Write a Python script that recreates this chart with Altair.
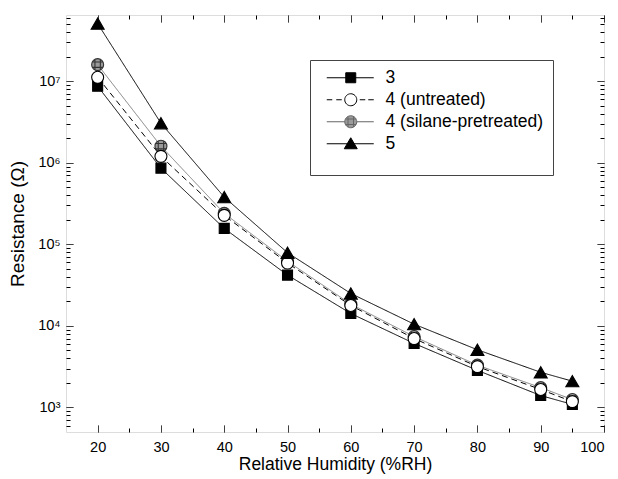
import altair as alt
import pandas as pd

# ---------------- data ----------------
RH = [20, 30, 40, 50, 60, 70, 80, 90, 95]
SERIES = ["3", "4 (untreated)", "4 (silane-pretreated)", "5"]
R_3 = [8.7e6, 8.6e5, 1.57e5, 4.2e4, 1.42e4, 6.1e3, 2.85e3, 1.4e3, 1.09e3]
R_4U = [1.12e7, 1.2e6, 2.27e5, 5.9e4, 1.78e4, 7.0e3, 3.17e3, 1.66e3, 1.18e3]
R_4S = [1.6e7, 1.6e6, 2.4e5, 6.2e4, 1.85e4, 7.4e3, 3.3e3, 1.75e3, 1.25e3]
R_5 = [5.1e7, 3.06e6, 3.8e5, 7.9e4, 2.5e4, 1.05e4, 5.1e3, 2.7e3, 2.1e3]

X_MAJOR = [20, 30, 40, 50, 60, 70, 80, 90, 100]
X_MINOR = [25, 35, 45, 55, 65, 75, 85, 95]
Y_MAJOR = [1e3, 1e4, 1e5, 1e6, 1e7]
Y_MINOR = [600, 700, 800, 900,
           2e3, 3e3, 4e3, 5e3, 6e3, 7e3, 8e3, 9e3,
           2e4, 3e4, 4e4, 5e4, 6e4, 7e4, 8e4, 9e4,
           2e5, 3e5, 4e5, 5e5, 6e5, 7e5, 8e5, 9e5,
           2e6, 3e6, 4e6, 5e6, 6e6, 7e6, 8e6, 9e6,
           2e7, 3e7, 4e7, 5e7, 6e7]

X_DOMAIN = [15, 100]
Y_DOMAIN = [500, 6.5e7]

# ---------------- styling ----------------
W, H = 538, 417
FONT = "Liberation Sans"
TICK = 7  # major tick length (inward)
TICK_COLOR = "black"

rows = []
for name, vals in zip(SERIES, [R_3, R_4U, R_4S, R_5]):
    for x, v in zip(RH, vals):
        rows.append({"series": name, "rh": x, "r": v})
df = pd.DataFrame(rows)

HATCH = ("M1,0A1,1,0,1,1,-1,0A1,1,0,1,1,1,0Z"
         "M-0.87,-0.45L0.87,-0.45M-0.87,0.45L0.87,0.45"
         "M-0.45,-0.87L-0.45,0.87M0.45,-0.87L0.45,0.87")

LINE_STYLE = {
    "3": dict(color="black", strokeDash=[1, 0]),
    "4 (untreated)": dict(color="black", strokeDash=[6, 4]),
    "4 (silane-pretreated)": dict(color="#808080", strokeDash=[1, 0]),
    "5": dict(color="black", strokeDash=[1, 0]),
}
POINT_STYLE = {
    "3": dict(shape="square", size=100, fill="black", stroke="black"),
    "4 (untreated)": dict(shape="circle", size=144, fill="white", stroke="black"),
    "4 (silane-pretreated)": dict(shape=HATCH, size=144, fill="#9a9a9a", stroke="#333333"),
    "5": dict(shape="triangle-up", size=169, fill="black", stroke="black"),
}
POINT_ORDER = ["4 (silane-pretreated)", "3", "4 (untreated)", "5"]

# legend symbols: line + marker in one path (1 unit = 5 px at size 100)
LEG_PATHS = [
    "M-0.2,0L9.2,0M3.6,-1L5.6,-1L5.6,1L3.6,1Z",
    "M-0.2,0L0.9,0M1.7,0L2.8,0M6.4,0L7.5,0M8.1,0L9.2,0"
    "M5.8,0A1.2,1.2,0,1,1,3.4,0A1.2,1.2,0,1,1,5.8,0Z",
    "M-0.2,0L3.4,0M5.8,0L9.2,0"
    "M5.8,0A1.2,1.2,0,1,1,3.4,0A1.2,1.2,0,1,1,5.8,0Z"
    "M3.56,-0.55L5.64,-0.55M3.56,0.55L5.64,0.55"
    "M4.05,-1.05L4.05,1.05M5.15,-1.05L5.15,1.05",
    "M-0.2,0L9.2,0M4.6,-1.2L5.9,1.0L3.3,1.0Z",
]
LEG_FILL = ["black", "white", "#9a9a9a", "black"]
LEG_STROKE = ["black", "black", "#666666", "black"]

x_scale = alt.Scale(domain=X_DOMAIN, nice=False, zero=False)
y_scale = alt.Scale(type="log", domain=Y_DOMAIN, nice=False)

X_VALUES = sorted(X_MAJOR + X_MINOR)
Y_VALUES = sorted(Y_MAJOR + Y_MINOR)
X_MINOR_TEST = "datum.value % 10 != 0"
Y_MINOR_TEST = "abs(log(datum.value)/LN10 - round(log(datum.value)/LN10)) > 0.001"

common = dict(domain=False, grid=False, ticks=True, tickColor=TICK_COLOR, tickWidth=1,
              tickSize={"expr": str(-TICK)})


def x_axis(orient, labels):
    kw = dict(common)
    kw["tickDash"] = {"condition": {"test": X_MINOR_TEST, "value": [4, 30]}, "value": [1, 0]}
    if labels:
        return alt.Axis(orient=orient, values=X_VALUES, title="Relative Humidity (%RH)",
                        labelExpr="datum.value % 10 == 0 ? datum.label : ''",
                        labelPadding=8 + TICK, labelFontSize=14.5, titleFontSize=17.5,
                        titlePadding=2, labelFont=FONT, titleFont=FONT,
                        labelColor="black", titleColor="black",
                        titleFontWeight="normal", **kw)
    return alt.Axis(orient=orient, values=X_VALUES, title=None, labels=False, **kw)


def y_axis(orient, labels):
    kw = dict(common)
    kw["tickDash"] = {"condition": {"test": Y_MINOR_TEST, "value": [4, 30]}, "value": [1, 0]}
    if labels:
        return alt.Axis(orient=orient, values=Y_VALUES, title="Resistance (\u03a9)",
                        labelExpr="(" + Y_MINOR_TEST + ") ? '' : '10' + ['\u2070','\u00b9','\u00b2','\u00b3','\u2074','\u2075','\u2076','\u2077','\u2078','\u2079'][round(log(datum.value)/LN10)]",
                        labelPadding=6 + TICK, labelFontSize=14.5, titleFontSize=19,
                        titlePadding=10, labelFont=FONT, titleFont=FONT,
                        labelColor="black", titleColor="black",
                        titleFontWeight="normal", **kw)
    return alt.Axis(orient=orient, values=Y_VALUES, title=None, labels=False, **kw)


def XE(axis):
    return alt.X("rh:Q", scale=x_scale, axis=axis)


def YE(axis):
    return alt.Y("r:Q", scale=y_scale, axis=axis)


base = alt.Chart(df)
layers = []

axes_for = {
    0: (x_axis("bottom", True), y_axis("left", True)),
    1: (x_axis("top", False), y_axis("right", False)),
}
for i, name in enumerate(SERIES):
    st = LINE_STYLE[name]
    xa, ya = axes_for.get(i, (None, None))
    layers.append(base.transform_filter(alt.datum.series == name)
                  .mark_line(color=st["color"], strokeDash=st["strokeDash"], strokeWidth=1)
                  .encode(x=XE(xa), y=YE(ya)))

for name in POINT_ORDER:
    st = POINT_STYLE[name]
    layers.append(base.transform_filter(alt.datum.series == name)
                  .mark_point(shape=st["shape"], size=st["size"], filled=True,
                              fill=st["fill"], stroke=st["stroke"], strokeWidth=1.1,
                              opacity=1)
                  .encode(x=XE(None), y=YE(None)))

leg = alt.Legend(orient="none", legendX=244, legendY=45, padding=9,
                 strokeColor="#444444", fillColor="white",
                 labelFont=FONT, labelFontSize=17.5, labelColor="black",
                 labelOffset=49, symbolSize=100, symbolStrokeWidth=1,
                 rowPadding=3, titleOrient="bottom", titleFontSize=10,
                 titlePadding=4, labelLimit=300)
layers.append(base.transform_filter("false")
              .mark_point(filled=True, opacity=1, size=100, strokeWidth=1)
              .encode(x=XE(None), y=YE(None),
                      shape=alt.Shape("series:N", title=" ",
                                      scale=alt.Scale(domain=SERIES, range=LEG_PATHS), legend=leg),
                      fill=alt.Fill("series:N", title=" ",
                                    scale=alt.Scale(domain=SERIES, range=LEG_FILL), legend=leg),
                      stroke=alt.Stroke("series:N", title=" ",
                                        scale=alt.Scale(domain=SERIES, range=LEG_STROKE), legend=leg)))

chart = alt.layer(*layers).resolve_axis(x="independent", y="independent").properties(
    width=W, height=H,
    autosize=alt.AutoSizeParams(type="none"),
    padding={"left": 58, "top": 7, "right": 4, "bottom": 42},
).configure_view(stroke="black", strokeWidth=1.2).configure(background="white")

chart.save("out.html", embed_options={"renderer": "svg", "actions": False})
